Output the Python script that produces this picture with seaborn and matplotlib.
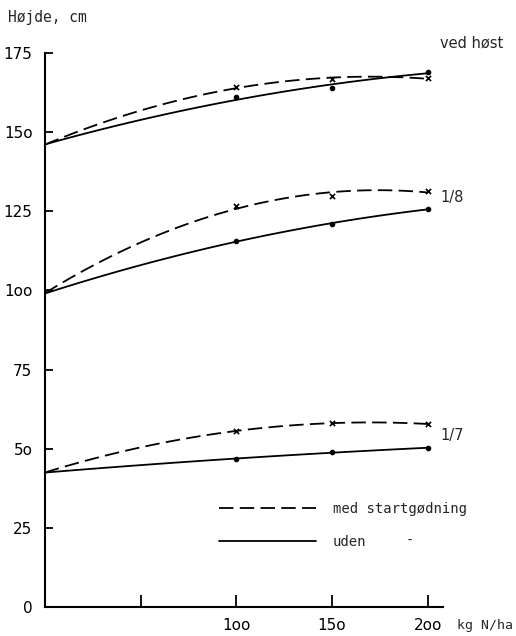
import numpy as np
import pandas as pd
import matplotlib
matplotlib.use("Agg")
import matplotlib.pyplot as plt
import seaborn as sns
from matplotlib.lines import Line2D

# data (kg N/ha vs height in cm)
n_kg = [0, 100, 150, 200]
host_med = [146, 164.2, 166.8, 167]
host_uden = [146, 161, 164, 169]
aug_med = [99, 126.7, 129.8, 131.4]
aug_uden = [99, 115.6, 121, 125.7]
jul_med = [42.5, 55.6, 58.1, 57.8]
jul_uden = [42.5, 46.7, 49, 50.2]

series_labels = ["ved høst", "1/8", "1/7"]
x_ticks = [50, 100, 150, 200]
x_ticklabels = ["", "1oo", "15o", "2oo"]
y_ticks = [0, 25, 50, 75, 100, 125, 150, 175]
y_ticklabels = ["0", "25", "5o", "75", "1oo", "125", "15o", "175"]

rows = []
for dato, med, uden in zip(series_labels, [host_med, aug_med, jul_med],
                           [host_uden, aug_uden, jul_uden]):
    for x, m, u in zip(n_kg, med, uden):
        rows.append({"N": x, "hojde": m, "dato": dato, "beh": "med"})
        rows.append({"N": x, "hojde": u, "dato": dato, "beh": "uden"})
df = pd.DataFrame(rows)

sns.set_style("ticks")
plt.rcParams["font.family"] = ["DejaVu Sans Mono"]

fig = plt.figure(figsize=(5.16, 6.36), dpi=100)
ax = fig.add_axes([0.0872, 0.0456, 0.7713, 0.8711])

dash = (8, 3.5)
for dato in series_labels:
    for beh in ["med", "uden"]:
        d = df[(df["dato"] == dato) & (df["beh"] == beh)]
        kws = {"color": "black", "lw": 1.3}
        if beh == "med":
            kws["dashes"] = dash
        sns.regplot(data=d, x="N", y="hojde", order=2, ci=None,
                    scatter=False, line_kws=kws, ax=ax)
        pts = d[d["N"] > 0]
        sns.scatterplot(data=pts, x="N", y="hojde", ax=ax, color="black",
                        marker="x" if beh == "med" else "o",
                        s=14 if beh == "med" else 8, linewidth=1.2,
                        edgecolor="black", legend=False)

# series names at the right end
for dato, yv in zip(series_labels, [178, 129.5, 54.3]):
    ax.text(206.5, yv, dato, fontsize=10.5, va="center", ha="left",
            family=["DejaVu Sans"], clip_on=False)

ax.set_xlim(0, 208)
ax.set_ylim(0, 175)
ax.set_xticks(x_ticks)
ax.set_xticklabels(x_ticklabels, family=["DejaVu Sans"], fontsize=11)
ax.set_yticks(y_ticks)
ax.set_yticklabels(y_ticklabels, family=["DejaVu Sans"], fontsize=11)
ax.tick_params(axis="x", direction="in", length=9, width=1.3, pad=8, colors="black")
ax.tick_params(axis="y", direction="in", length=6, width=1.3, pad=9, colors="black")
ax.set_xlabel("")
ax.set_ylabel("")
sns.despine(ax=ax)
for sp in ["left", "bottom"]:
    ax.spines[sp].set_linewidth(1.5)
    ax.spines[sp].set_color("black")

fig.text(0.016, 0.972, "Højde, cm", fontsize=10.5, va="center", ha="left")
fig.text(0.886, 0.0066, "kg N/ha", fontsize=9.5, va="bottom", ha="left")

handles = [Line2D([], [], color="black", lw=1.3, dashes=dash),
           Line2D([], [], color="black", lw=1.3)]
ax.legend(handles, ["med startgødning", "uden"], frameon=False,
          loc="center left", bbox_to_anchor=(0.405, 0.147), handlelength=7,
          labelspacing=1.35, handletextpad=1.2, fontsize=10)
# stray dash after "uden" in the original
ax.text(0.917, 0.119, "-", transform=ax.transAxes, fontsize=10,
        ha="center", va="center")

fig.savefig("out.png", dpi=100)
